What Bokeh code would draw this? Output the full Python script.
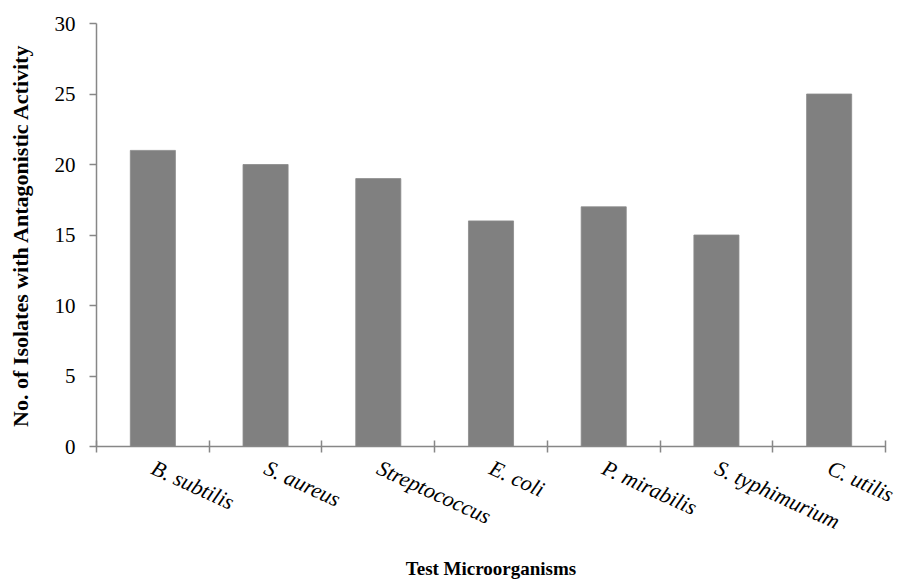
import math
from bokeh.plotting import figure
from bokeh.models import FixedTicker, Range1d, ColumnDataSource
from bokeh.embed import file_html
from bokeh.resources import INLINE

categories = ["B. subtilis", "S. aureus", "Streptococcus", "E. coli",
              "P. mirabilis", "S. typhimurium", "C. utilis"]
isolates = [21, 20, 19, 16, 17, 15, 25]
y_ticks = [0, 5, 10, 15, 20, 25, 30]

centers = [i + 0.5 for i in range(len(categories))]
bounds = list(range(len(categories) + 1))

src = ColumnDataSource(dict(x=centers, top=isolates, name=categories))

p = figure(width=900, height=582, output_backend="svg", toolbar_location=None,
           x_range=Range1d(0, len(categories)), y_range=Range1d(0, 30),
           min_border_left=96, min_border_right=15, min_border_top=23,
           min_border_bottom=135)
p.outline_line_color = None
p.grid.visible = False
p.background_fill_color = "white"

p.vbar(x="x", top="top", width=0.4, bottom=0, source=src,
       fill_color="#808080", line_color="#8a8a8a", line_width=0.8)

serif = "'Liberation Serif', 'Times New Roman', serif"
axc = "#878787"

# x axis
xa = p.xaxis[0]
xa.ticker = FixedTicker(ticks=centers, minor_ticks=bounds)
xa.major_label_overrides = {c: n for c, n in zip(centers, categories)}
xa.major_tick_in = 0
xa.major_tick_out = 0
xa.minor_tick_in = 6
xa.minor_tick_out = 6
xa.minor_tick_line_color = axc
xa.minor_tick_line_width = 1.5
xa.axis_line_color = axc
xa.axis_line_width = 1.5
xa.major_label_orientation = -0.43
xa.major_label_text_font = serif
xa.major_label_text_font_style = "italic"
xa.major_label_text_font_size = "22px"
xa.major_label_text_color = "black"
xa.major_label_standoff = 14
xa.axis_label = "Test Microorganisms"
xa.axis_label_text_font = serif
xa.axis_label_text_font_style = "bold"
xa.axis_label_text_font_size = "19px"
xa.axis_label_text_color = "black"
xa.axis_label_standoff = 10

# y axis
ya = p.yaxis[0]
ya.ticker = FixedTicker(ticks=y_ticks, minor_ticks=[])
ya.major_tick_in = 0
ya.major_tick_out = 7
ya.major_tick_line_color = axc
ya.major_tick_line_width = 1.5
ya.axis_line_color = axc
ya.axis_line_width = 1.5
ya.major_label_text_font = serif
ya.major_label_text_font_size = "21px"
ya.major_label_text_color = "black"
ya.major_label_standoff = 14
ya.axis_label = "No. of Isolates with Antagonistic Activity"
ya.axis_label_text_font = serif
ya.axis_label_text_font_style = "bold"
ya.axis_label_text_font_size = "22px"
ya.axis_label_text_color = "black"
ya.axis_label_standoff = 19

open("out.html", "w").write(file_html(p, INLINE))
